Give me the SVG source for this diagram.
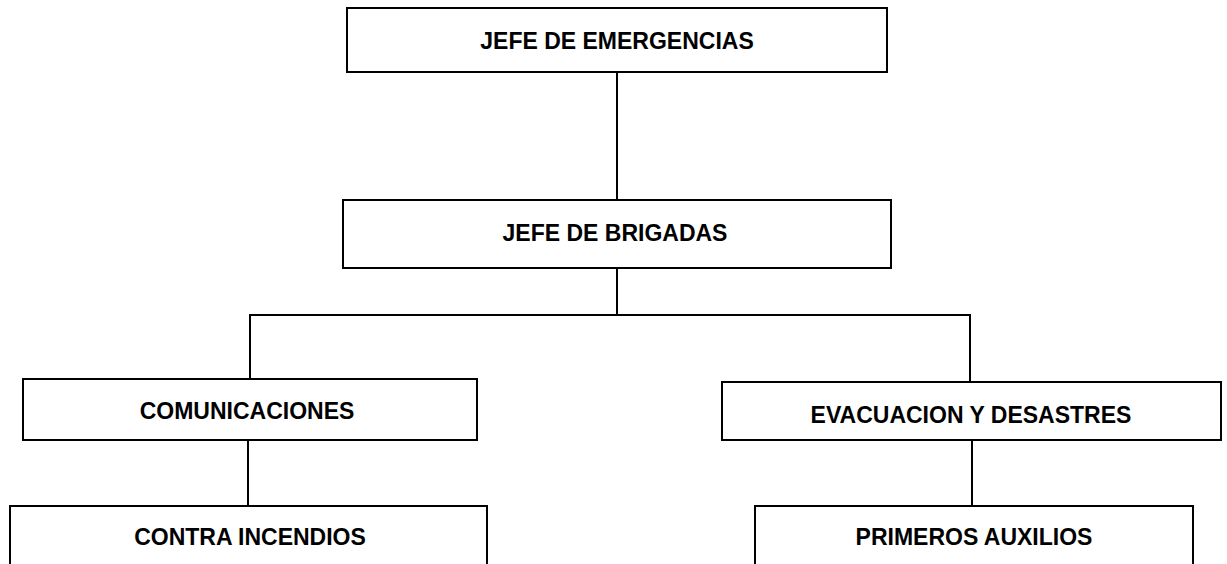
<svg xmlns="http://www.w3.org/2000/svg" width="1227" height="564" viewBox="0 0 1227 564">
<style>
.box{fill:#fff;stroke:#000;stroke-width:2}
.lbl{font-family:"Liberation Sans",Arial,sans-serif;font-weight:bold;font-size:23px;fill:#000;text-anchor:middle}
.con{fill:none;stroke:#000;stroke-width:2}
</style>
<rect width="1227" height="564" fill="#fff"/>
<g id="connectors">
<line class="con" x1="617" y1="72" x2="617" y2="200"/>
<line class="con" x1="617" y1="268" x2="617" y2="315"/>
<polyline class="con" points="250,379 250,315 970,315 970,382"/>
<line class="con" x1="248" y1="440" x2="248" y2="506"/>
<line class="con" x1="972" y1="440" x2="972" y2="506"/>
</g>
<g id="n1"><rect class="box" x="347" y="8" width="540" height="64"/><text class="lbl" x="617" y="49">JEFE DE EMERGENCIAS</text></g>
<g id="n2"><rect class="box" x="343" y="200" width="548" height="68"/><text class="lbl" x="615" y="241">JEFE DE BRIGADAS</text></g>
<g id="n3"><rect class="box" x="23" y="379" width="454" height="61"/><text class="lbl" x="247" y="419">COMUNICACIONES</text></g>
<g id="n4"><rect class="box" x="722" y="382" width="499" height="58"/><text class="lbl" x="971" y="423">EVACUACION Y DESASTRES</text></g>
<g id="n5"><rect class="box" x="10" y="506" width="477" height="70"/><text class="lbl" x="250" y="545">CONTRA INCENDIOS</text></g>
<g id="n6"><rect class="box" x="755" y="506" width="438" height="70"/><text class="lbl" x="974" y="545">PRIMEROS AUXILIOS</text></g>
</svg>
